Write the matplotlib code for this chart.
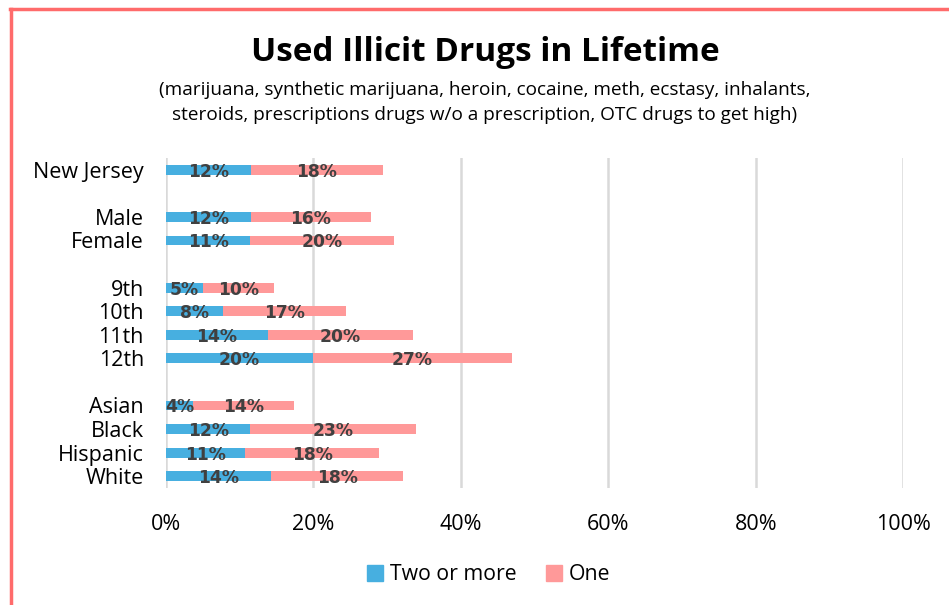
import matplotlib
matplotlib.use("Agg")
import matplotlib.pyplot as plt
from matplotlib.lines import Line2D
from matplotlib.patches import Patch

plt.rcParams['font.family'] = ['Open Sans', 'DejaVu Sans']

categories = ["New Jersey", "Male", "Female", "9th", "10th", "11th", "12th",
              "Asian", "Black", "Hispanic", "White"]
slots = [0, 2, 3, 5, 6, 7, 8, 10, 11, 12, 13]
two_or_more = [11.5, 11.5, 11.4, 5.0, 7.7, 13.8, 19.9, 3.7, 11.4, 10.7, 14.2]
one = [17.9, 16.3, 19.5, 9.6, 16.7, 19.7, 27.0, 13.7, 22.5, 18.2, 18.0]
two_labels = ["12%", "12%", "11%", "5%", "8%", "14%", "20%", "4%", "12%", "11%", "14%"]
one_labels = ["18%", "16%", "20%", "10%", "17%", "20%", "27%", "14%", "23%", "18%", "18%"]
series_names = ["Two or more", "One"]
xticks = [0, 20, 40, 60, 80, 100]
xtick_labels = ["0%", "20%", "40%", "60%", "80%", "100%"]

blue = "#47AFE0"
pink = "#FF9999"

fig = plt.figure(figsize=(9.49, 6.05), dpi=100)
ax = fig.add_axes([0.175, 0.1934, 0.7767, 0.5455])

ax.barh(slots, two_or_more, height=0.42, color=blue, zorder=3)
ax.barh(slots, one, left=two_or_more, height=0.42, color=pink, zorder=3)

for y, a, b, la, lb in zip(slots, two_or_more, one, two_labels, one_labels):
    ax.text(a / 2, y + 0.08, la, ha='center', va='center', fontsize=12.3,
            fontweight='bold', color='#404040', zorder=4, family='DejaVu Sans')
    ax.text(a + b / 2, y + 0.08, lb, ha='center', va='center', fontsize=12.3,
            fontweight='bold', color='#404040', zorder=4, family='DejaVu Sans')

ax.set_xlim(0, 100)
ax.set_ylim(13.5, -0.5)
ax.set_yticks(slots)
ax.set_yticklabels(categories, fontsize=15.5)
ax.set_xticks(xticks)
ax.set_xticklabels(xtick_labels, fontsize=15.5)
ax.tick_params(axis='both', length=0)
ax.tick_params(axis='y', pad=16)
ax.tick_params(axis='x', pad=19)
ax.grid(axis='x', color='#D9D9D9', linewidth=1.8, zorder=0)
for s in ax.spines.values():
    s.set_visible(False)

fig.text(0.511, 0.913, "Used Illicit Drugs in Lifetime", ha='center', va='center',
         fontsize=24, fontweight='bold', color='black')
fig.text(0.511, 0.851, "(marijuana, synthetic marijuana, heroin, cocaine, meth, ecstasy, inhalants,",
         ha='center', va='center', fontsize=13.7, color='black')
fig.text(0.511, 0.810, "steroids, prescriptions drugs w/o a prescription, OTC drugs to get high)",
         ha='center', va='center', fontsize=13.7, color='black')

handles = [Patch(color=blue), Patch(color=pink)]
fig.legend(handles, series_names, loc='center', bbox_to_anchor=(0.515, 0.05),
           ncol=2, frameon=False, fontsize=15.3, handlelength=0.75, handleheight=0.75,
           handletextpad=0.3, columnspacing=1.4)

# chart frame (partially visible)
fig.add_artist(Line2D([0.0118, 0.0118], [0, 0.985], color='#FF6B6B', lw=2.5,
                      transform=fig.transFigure))
fig.add_artist(Line2D([0.0105, 1.0], [0.985, 0.985], color='#FF6B6B', lw=2.5,
                      transform=fig.transFigure))

fig.savefig("out.png", dpi=100)
